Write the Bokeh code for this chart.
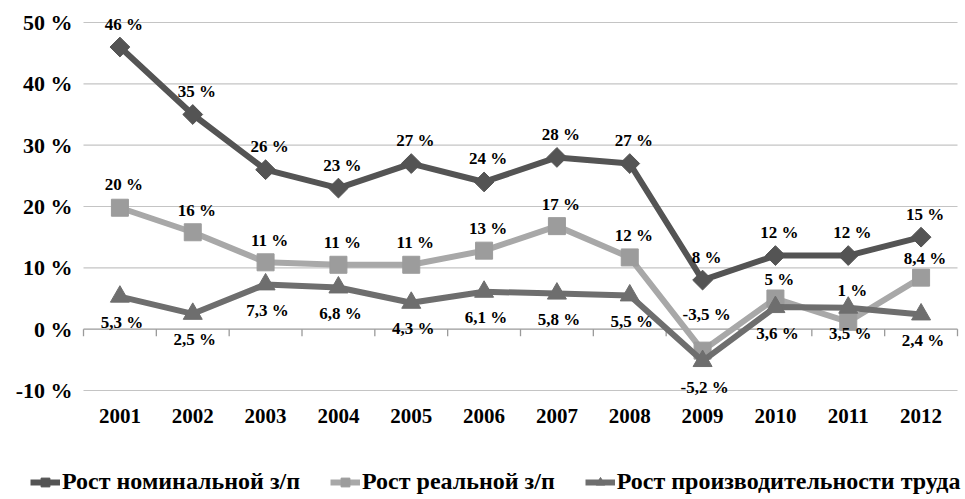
import numpy as np
from bokeh.plotting import figure
from bokeh.models import Legend, LegendItem, Range1d
from bokeh.core.properties import value
from bokeh.embed import file_html
from bokeh.resources import INLINE

years = ["2001", "2002", "2003", "2004", "2005", "2006", "2007", "2008", "2009", "2010", "2011", "2012"]
nominal = [46, 35, 26, 23, 27, 24, 28, 27, 8, 12, 12, 15]
nominal_labels = ["46 %", "35 %", "26 %", "23 %", "27 %", "24 %", "28 %", "27 %", "8 %", "12 %", "12 %", "15 %"]
real = [19.8, 15.8, 10.9, 10.5, 10.5, 12.8, 16.8, 11.7, -3.5, 5.0, 1.2, 8.4]
real_labels = ["20 %", "16 %", "11 %", "11 %", "11 %", "13 %", "17 %", "12 %", "-3,5 %", "5 %", "1 %", "8,4 %"]
prod = [5.3, 2.5, 7.3, 6.8, 4.3, 6.1, 5.8, 5.5, -5.2, 3.6, 3.5, 2.4]
prod_labels = ["5,3 %", "2,5 %", "7,3 %", "6,8 %", "4,3 %", "6,1 %", "5,8 %", "5,5 %", "-5,2 %", "3,6 %", "3,5 %", "2,4 %"]
y_ticks = [-10, 0, 10, 20, 30, 40, 50]
y_tick_labels = ["-10 %", "0 %", "10 %", "20 %", "30 %", "40 %", "50 %"]
series_names = ["Рост номинальной з/п", "Рост реальной з/п", "Рост производительности труда"]

# label placement (screen px, style only)
real_label_dy = [-23, -22, -22, -22, -22, -22, -22, -22, -36, -19, -31, -19]

FONT = value("Liberation Serif")
n = len(years)
x = np.arange(1, n + 1)

W, H = 965, 499
cat_px = 874 / n          # pixel width of one category
unit_px = 368 / 60        # pixels per percentage point
x0 = 0.5 - 83 / cat_px
x1 = n + 0.5 + (W - 957) / cat_px
y1 = 50 + 22 / unit_px
y0 = -10 - (H - 390) / unit_px

p = figure(width=W, height=H, output_backend="svg", toolbar_location=None,
           x_range=Range1d(x0, x1), y_range=Range1d(y0, y1),
           x_axis_location=None, y_axis_location=None,
           min_border_left=0, min_border_right=0, min_border_top=0, min_border_bottom=0)
p.outline_line_color = None
p.background_fill_color = "white"
p.xgrid.grid_line_color = None
p.ygrid.grid_line_color = None

left, right = 0.5, n + 0.5
grid_ticks = [t for t in y_ticks if t != 0]
# horizontal gridlines
p.segment(x0=[left] * len(grid_ticks), y0=grid_ticks, x1=[right] * len(grid_ticks), y1=grid_ticks,
          line_color="#c4c4c4", line_width=1.2)
# zero axis line with category-boundary ticks
p.segment(x0=[left], y0=[0], x1=[right], y1=[0], line_color="#9a9a9a", line_width=1.3)
bounds = np.arange(0.5, n + 0.6, 1.0)
p.segment(x0=bounds, y0=0, x1=bounds, y1=-1.15, line_color="#9a9a9a", line_width=1.3)

# y tick labels
p.text([left] * len(y_ticks), y_ticks, text=y_tick_labels, x_offset=-11,
       text_font=FONT, text_font_style="bold", text_font_size="22px",
       text_align="right", text_baseline="middle", text_color="black")
# x category labels
p.text(x, [-10] * n, text=years, y_offset=25,
       text_font=FONT, text_font_style="bold", text_font_size="21px",
       text_align="center", text_baseline="middle", text_color="black")

c_nom, c_real, c_prod = "#545454", "#a8a8a8", "#6e6e6e"
m_real = "#9c9c9c"

l1 = p.line(x, nominal, line_color=c_nom, line_width=6)
s1 = p.scatter(x, nominal, marker="square", angle=np.pi / 4, size=14, fill_color=c_nom, line_color=c_nom)
l2 = p.line(x, real, line_color=c_real, line_width=6)
s2 = p.scatter(x, real, marker="square", size=17, fill_color=m_real, line_color=m_real)
l3 = p.line(x, prod, line_color=c_prod, line_width=6)
s3 = p.scatter(x, prod, marker="triangle", size=19, fill_color=c_prod, line_color=c_prod)

lab_kw = dict(text_font=FONT, text_font_style="bold", text_font_size="17px",
              text_align="center", text_baseline="middle", text_color="black")
p.text(x, nominal, text=nominal_labels, y_offset=-23, x_offset=4, **lab_kw)
p.text(x, real, text=real_labels, y_offset=real_label_dy, x_offset=4, **lab_kw)
p.text(x, prod, text=prod_labels, y_offset=26, x_offset=2, **lab_kw)

legend = Legend(items=[LegendItem(label=series_names[0], renderers=[l1, s1]),
                       LegendItem(label=series_names[1], renderers=[l2, s2]),
                       LegendItem(label=series_names[2], renderers=[l3, s3])],
                orientation="horizontal", location=(30, 4),
                label_text_font="Liberation Serif", label_text_font_style="bold",
                label_text_font_size="24px", label_text_color="black",
                glyph_width=30, glyph_height=22, label_standoff=2, spacing=30,
                border_line_color=None, background_fill_alpha=0, padding=2, margin=0)
p.add_layout(legend)

open("out.html", "w").write(file_html(p, INLINE))
